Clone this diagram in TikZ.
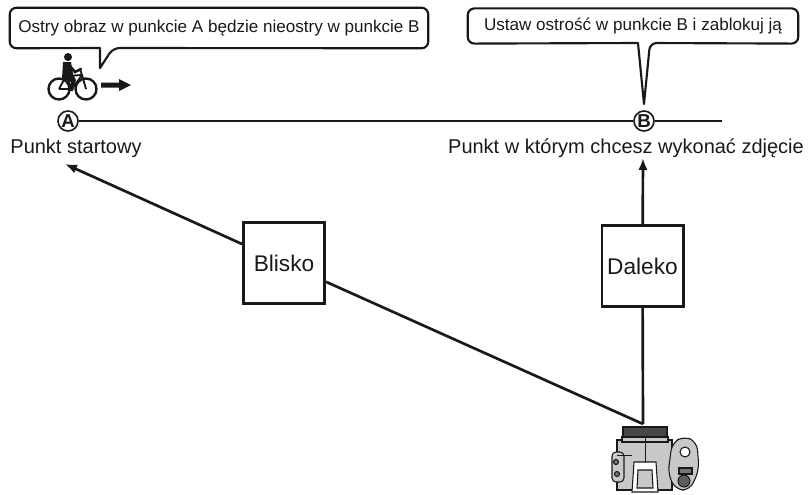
\documentclass[tikz,border=0pt]{standalone}
\usepackage{fontspec}
\setmainfont{Liberation Sans}
\usetikzlibrary{positioning,arrows.meta}
\definecolor{body}{RGB}{200,200,200}
\definecolor{ink}{RGB}{25,25,25}

\begin{document}
\begin{tikzpicture}[x=0.75pt, y=-0.75pt, every node/.style={font=\fontsize{15}{18}\selectfont, text=ink},
    track/.style={line width=2pt, ink},
    pointmark/.style={draw=ink, circle, line width=1.2pt, fill=white, inner sep=0pt, minimum size=15pt, font=\fontsize{14}{16}\selectfont\bfseries},
    distbox/.style={draw=ink, line width=2pt, fill=white, minimum width=61pt, minimum height=61pt, inner sep=1pt, font=\fontsize{17}{20}\selectfont},
    note/.style={font=\fontsize{12.8}{15}\selectfont, inner sep=0pt},
    balloon/.style={draw=ink, line width=1.6pt, rounded corners=5pt, line join=round}]
    \useasboundingbox (0,0) rectangle (808,494);

    % baseline with the two points
    \node[pointmark] (ptA) at (68,121) {A};
    \node[pointmark] (ptB) at (644,121) {B};
    \coordinate (trackEnd) at (722,121);
    \draw[track] (ptA) -- (ptB) -- (trackEnd);

    \node (startLbl) at (76,148) {Punkt startowy};
    \node (shotLbl) at (626,148) {Punkt w którym chcesz wykonać zdjęcie};

    % speech balloons
    \node[note, minimum width=313.5pt, minimum height=30pt] (noteA) at (219,28) {Ostry obraz w punkcie A będzie nieostry w punkcie B};
    \draw[balloon] (noteA.north west) -- (noteA.north east) -- (noteA.south east)
        -- (113,48) [sharp corners] -- (100,68) -- (100,48) [rounded corners=5pt] -- (noteA.south west) -- cycle;

    \node[note, minimum width=247.5pt, minimum height=26pt] (noteB) at (633,26) {Ustaw ostrość w punkcie B i zablokuj ją};
    \draw[balloon] (noteB.north west) -- (noteB.north east) -- (noteB.south east)
        -- (650,43) [sharp corners] -- (644,104) -- (638,43) [rounded corners=5pt] -- (noteB.south west) -- cycle;

    % cyclist heading right
    \draw[ink, line width=1.8pt] (59,89) circle (10.5) (86,89) circle (10.5);
    \draw[ink, line width=1.4pt, line join=round] (59,89) -- (66,76) -- (72,89) -- (59,89)
        (66,76) -- (82,75) -- (72,89) (82,75) -- (86,89) (80,69) -- (82,75);
    \fill[ink] (68,57) circle (4);
    \fill[ink] (63,62) -- (71,62) -- (73,74) -- (76,80) -- (73,91) -- (69,91) -- (71,82) -- (62,79) -- cycle;
    \draw[ink, line width=2pt, line cap=round] (69,65) -- (75,72) -- (81,69);
    \fill[ink] (101,82.5) -- (119,82.5) -- (119,79) -- (131,85) -- (119,91) -- (119,87.5) -- (101,87.5) -- cycle;

    % camera seen from above
    \coordinate (cam) at (643,424);
    \begin{scope}[draw=ink, line width=0.8pt]
        \filldraw[fill=body] (617,440) -- (672,440) -- (672,490) -- (617,490) -- cycle;
        \filldraw[fill=ink!80] (623,427) rectangle (667,437);
        \filldraw[fill=body] (622,437) rectangle (668,442);
        \filldraw[fill=body, rounded corners=6pt] (672,443) -- (684,436) -- (697,442) -- (699,470) -- (690,490) -- (676,490) -- (668,474) -- cycle;
        \filldraw[fill=body, rounded corners=3pt] (612,452) rectangle (624,482);
        \filldraw[fill=white] (634,462) -- (656,462) -- (658,492) -- (632,492) -- cycle;
        \filldraw[fill=body] (638,470) -- (652,470) -- (653,488) -- (637,488) -- cycle;
        \filldraw[fill=white] (685,452) circle (5);
        \filldraw[fill=ink!70] (684,481) circle (6);
        \filldraw[fill=ink!60] (679,468) rectangle (692,474);
        \draw[line width=0.5pt] (645,437) -- (645,462) (617,455) -- (632,455);
        \filldraw[fill=ink!60] (616,462) circle (2.5) (617,474) circle (2.5);
    \end{scope}

    % focus distance boxes and the lines of sight
    \node[distbox] (near) at (284,263) {Blisko};
    \node[distbox] (far) at (642.5,266) {Daleko};
    \coordinate (nearEnd) at (65,164);
    \coordinate (farEnd) at (643,158);

    \draw[track] (cam) -- (near);
    \draw[track, -{Latex[length=9pt,width=7pt]}] (near) -- (nearEnd);
    \draw[track] (cam) -- (far);
    \draw[track, -{Latex[length=9pt,width=7pt]}] (far) -- (farEnd);
\end{tikzpicture}
\end{document}
